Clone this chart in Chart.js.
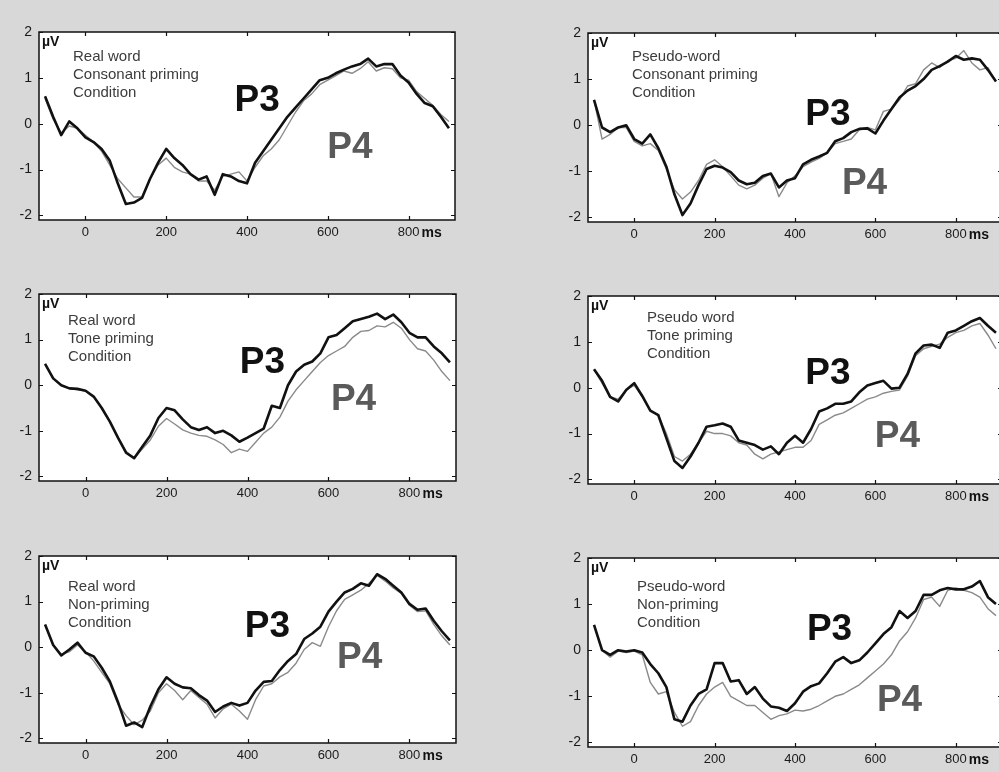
<!DOCTYPE html>
<html>
<head>
<meta charset="utf-8">
<script src="https://cdn.jsdelivr.net/npm/chart.js@4.4.1/dist/chart.umd.min.js"></script>
<style>
  html, body { margin: 0; padding: 0; width: 999px; height: 772px; overflow: hidden; background: #d8d8d8; }
  body { position: relative; }
  canvas { position: absolute; }
</style>
</head>
<body>
<script>
// time axis (ms) shared by all six panels
const times = [-100, -80, -60, -40, -20, 0, 20, 40, 60, 80, 100, 120, 140, 160, 180, 200, 220, 240, 260, 280,
  300, 320, 340, 360, 380, 400, 420, 440, 460, 480, 500, 520, 540, 560, 580, 600, 620, 640, 660, 680,
  700, 720, 740, 760, 780, 800, 820, 840, 860, 880, 900];

// µV values, black = P3, grey = P4
const realConsP3 = [0.6, 0.15, -0.25, 0.05, -0.1, -0.3, -0.4, -0.55, -0.8, -1.3, -1.75, -1.72, -1.62, -1.2, -0.85, -0.55, -0.75, -0.9, -1.1, -1.22,
  -1.15, -1.55, -1.1, -1.15, -1.25, -1.3, -0.85, -0.6, -0.35, -0.1, 0.15, 0.35, 0.55, 0.75, 0.95, 1.0, 1.1, 1.18, 1.25, 1.3,
  1.42, 1.25, 1.3, 1.3, 1.05, 0.9, 0.65, 0.45, 0.38, 0.15, -0.1];
const realConsP4 = [0.55, 0.1, -0.2, -0.05, -0.1, -0.25, -0.4, -0.6, -0.9, -1.2, -1.4, -1.6, -1.6, -1.2, -0.9, -0.75, -0.95, -1.05, -1.1, -1.25,
  -1.25, -1.45, -1.15, -1.1, -1.05, -1.25, -0.95, -0.7, -0.55, -0.35, -0.05, 0.25, 0.5, 0.65, 0.85, 0.95, 1.05, 1.15, 1.1, 1.2,
  1.35, 1.15, 1.22, 1.2, 1.0, 0.95, 0.7, 0.55, 0.4, 0.2, 0.05];

const pseudoConsP3 = [0.55, -0.05, -0.15, -0.05, 0.0, -0.3, -0.4, -0.2, -0.5, -0.9, -1.5, -1.95, -1.7, -1.3, -0.95, -0.88, -0.92, -1.02, -1.2, -1.28,
  -1.25, -1.1, -1.05, -1.35, -1.2, -1.15, -0.85, -0.75, -0.68, -0.6, -0.35, -0.28, -0.15, -0.08, -0.07, -0.18, 0.1, 0.35, 0.6, 0.75,
  0.85, 1.0, 1.2, 1.28, 1.38, 1.5, 1.42, 1.45, 1.42, 1.2, 0.95];
const pseudoConsP4 = [0.55, -0.3, -0.2, -0.05, -0.05, -0.35, -0.45, -0.4, -0.55, -0.95, -1.4, -1.6, -1.45, -1.2, -0.85, -0.75, -0.9, -1.1, -1.3, -1.38,
  -1.3, -1.15, -1.05, -1.55, -1.25, -1.1, -0.9, -0.8, -0.72, -0.6, -0.4, -0.35, -0.3, -0.1, -0.05, -0.1, 0.3, 0.35, 0.55, 0.85,
  0.9, 1.2, 1.35, 1.25, 1.4, 1.45, 1.62, 1.35, 1.2, 1.25, 0.95];

const realToneP3 = [0.47, 0.15, 0.0, -0.07, -0.08, -0.12, -0.25, -0.5, -0.8, -1.15, -1.48, -1.6, -1.35, -1.1, -0.72, -0.5, -0.55, -0.75, -0.92, -0.98,
  -0.92, -1.05, -1.0, -1.1, -1.24, -1.15, -1.05, -0.95, -0.45, -0.5, 0.0, 0.3, 0.45, 0.52, 0.7, 1.05, 1.1, 1.25, 1.4, 1.45,
  1.5, 1.57, 1.45, 1.55, 1.38, 1.15, 1.05, 1.05, 0.85, 0.7, 0.5];
const realToneP4 = [0.47, 0.15, 0.0, -0.07, -0.1, -0.12, -0.25, -0.5, -0.8, -1.15, -1.45, -1.6, -1.4, -1.2, -0.9, -0.73, -0.85, -0.98, -1.05, -1.1,
  -1.12, -1.2, -1.3, -1.48, -1.4, -1.45, -1.25, -1.05, -0.92, -0.7, -0.35, -0.1, 0.1, 0.3, 0.5, 0.65, 0.75, 0.85, 1.05, 1.18,
  1.2, 1.3, 1.28, 1.38, 1.25, 1.0, 0.8, 0.75, 0.55, 0.3, 0.1];

const pseudoToneP3 = [0.4, 0.15, -0.2, -0.3, -0.05, 0.1, -0.18, -0.5, -0.6, -1.1, -1.6, -1.75, -1.5, -1.2, -0.85, -0.82, -0.78, -0.85, -1.15, -1.2,
  -1.25, -1.35, -1.28, -1.45, -1.2, -1.05, -1.2, -0.9, -0.52, -0.45, -0.35, -0.35, -0.3, -0.1, 0.05, 0.1, 0.15, -0.02, 0.0, 0.3,
  0.75, 0.92, 0.94, 0.87, 1.2, 1.25, 1.35, 1.45, 1.52, 1.35, 1.2];
const pseudoToneP4 = [0.4, 0.1, -0.2, -0.25, -0.05, 0.05, -0.2, -0.5, -0.6, -1.0, -1.5, -1.6, -1.45, -1.2, -0.95, -1.0, -1.0, -1.05, -1.2, -1.25,
  -1.45, -1.55, -1.45, -1.4, -1.35, -1.3, -1.3, -1.15, -0.8, -0.7, -0.6, -0.55, -0.45, -0.35, -0.25, -0.2, -0.12, -0.08, -0.05, 0.25,
  0.7, 0.85, 0.9, 0.95, 1.1, 1.2, 1.25, 1.35, 1.4, 1.15, 0.85];

const realNonP3 = [0.5, 0.05, -0.18, -0.05, 0.1, -0.12, -0.2, -0.45, -0.75, -1.2, -1.72, -1.65, -1.75, -1.3, -0.92, -0.66, -0.8, -0.88, -0.9, -1.05,
  -1.17, -1.42, -1.3, -1.22, -1.28, -1.22, -0.95, -0.76, -0.74, -0.5, -0.3, -0.15, 0.18, 0.3, 0.45, 0.78, 1.0, 1.2, 1.28, 1.4,
  1.35, 1.6, 1.5, 1.35, 1.2, 0.95, 0.82, 0.85, 0.58, 0.35, 0.15];
const realNonP4 = [0.5, 0.05, -0.15, -0.1, 0.05, -0.1, -0.3, -0.55, -0.8, -1.25, -1.5, -1.7, -1.6, -1.4, -1.0, -0.8, -0.95, -1.15, -0.95, -1.1,
  -1.25, -1.55, -1.35, -1.25, -1.4, -1.58, -1.15, -0.85, -0.8, -0.65, -0.55, -0.35, -0.05, 0.1, 0.02, 0.45, 0.8, 1.05, 1.15, 1.25,
  1.4, 1.58, 1.45, 1.3, 1.18, 0.92, 0.78, 0.8, 0.5, 0.25, 0.05];

const pseudoNonP3 = [0.55, 0.0, -0.1, 0.0, -0.03, 0.0, -0.05, -0.3, -0.5, -0.8, -1.5, -1.55, -1.2, -0.95, -0.85, -0.28, -0.28, -0.68, -0.65, -0.95,
  -0.8, -1.05, -1.22, -1.25, -1.32, -1.15, -0.9, -0.78, -0.72, -0.5, -0.25, -0.15, -0.28, -0.22, -0.05, 0.15, 0.35, 0.5, 0.85, 0.7,
  0.85, 1.2, 1.2, 1.3, 1.35, 1.32, 1.32, 1.38, 1.5, 1.15, 1.0];
const pseudoNonP4 = [0.55, 0.0, -0.15, -0.02, -0.05, -0.02, -0.1, -0.7, -0.95, -0.9, -1.35, -1.65, -1.55, -1.2, -0.95, -0.8, -0.7, -1.0, -1.1, -1.2,
  -1.2, -1.35, -1.5, -1.42, -1.38, -1.3, -1.32, -1.28, -1.2, -1.1, -1.0, -0.95, -0.85, -0.75, -0.6, -0.45, -0.3, -0.1, 0.2, 0.4,
  0.7, 1.1, 1.15, 0.95, 1.3, 1.35, 1.3, 1.25, 1.15, 0.9, 0.75];

const xTicks = [0, 200, 400, 600, 800];
const yTicks = [-2, -1, 0, 1, 2];
const yTickLabels = ['-2', '-1', '0', '1', '2'];

const FONT = '"Liberation Sans", Arial, Helvetica, sans-serif';
const AXW = 38, AXH = 28, PADT = 30, PADR = 10;

// plot boxes in page pixels, plus where the notes sit
const panels = [
  { L: 39, T: 32, R: 455, B: 220, p3: realConsP3, p4: realConsP4,
    note: ['Real word', 'Consonant priming', 'Condition'], noteX: 34, noteY: 25, p3At: [425, 0.56], p4At: [655, -0.46] },
  { L: 588, T: 33, R: 1002, B: 222, p3: pseudoConsP3, p4: pseudoConsP4,
    note: ['Pseudo-word', 'Consonant priming', 'Condition'], noteX: 44, noteY: 24, p3At: [482, 0.28], p4At: [573, -1.21] },
  { L: 39, T: 294, R: 456, B: 481, p3: realToneP3, p4: realToneP4,
    note: ['Real word', 'Tone priming', 'Condition'], noteX: 29, noteY: 27, p3At: [437, 0.56], p4At: [662, -0.25] },
  { L: 588, T: 296, R: 1002, B: 484, p3: pseudoToneP3, p4: pseudoToneP4,
    note: ['Pseudo word', 'Tone priming', 'Condition'], noteX: 59, noteY: 22, p3At: [482, 0.36], p4At: [655, -1.01] },
  { L: 39, T: 556, R: 456, B: 743, p3: realNonP3, p4: realNonP4,
    note: ['Real word', 'Non-priming', 'Condition'], noteX: 29, noteY: 31, p3At: [449, 0.52], p4At: [677, -0.16] },
  { L: 588, T: 558, R: 1002, B: 747, p3: pseudoNonP3, p4: pseudoNonP4,
    note: ['Pseudo-word', 'Non-priming', 'Condition'], noteX: 49, noteY: 29, p3At: [486, 0.5], p4At: [660, -1.03] }
];

const framePlugin = {
  id: 'frame',
  beforeDraw(chart) {
    const a = chart.chartArea, ctx = chart.ctx;
    ctx.save();
    ctx.fillStyle = '#ffffff';
    ctx.fillRect(a.left, a.top, a.right - a.left, a.bottom - a.top);
    ctx.restore();
  },
  afterDraw(chart, args, opts) {
    const a = chart.chartArea, ctx = chart.ctx;
    const x = chart.scales.x, y = chart.scales.y;
    const p = opts.panel;
    ctx.save();
    // box
    ctx.strokeStyle = '#111';
    ctx.lineWidth = 1.5;
    ctx.strokeRect(a.left, a.top, a.right - a.left, a.bottom - a.top);
    // inward ticks
    ctx.lineWidth = 1.2;
    ctx.beginPath();
    xTicks.forEach(v => {
      const px = Math.round(x.getPixelForValue(v)) + 0.5;
      ctx.moveTo(px, a.bottom); ctx.lineTo(px, a.bottom - 4);
      ctx.moveTo(px, a.top); ctx.lineTo(px, a.top + 4);
    });
    yTicks.forEach(v => {
      const py = Math.round(y.getPixelForValue(v)) + 0.5;
      ctx.moveTo(a.left, py); ctx.lineTo(a.left + 4, py);
      ctx.moveTo(a.right, py); ctx.lineTo(a.right - 4, py);
    });
    ctx.stroke();

    // unit labels
    ctx.fillStyle = '#111';
    ctx.font = 'bold 14px ' + FONT;
    ctx.textAlign = 'left';
    ctx.textBaseline = 'middle';
    ctx.fillText('\u00b5V', a.left + 3, a.top + 10);
    ctx.fillText('ms', x.getPixelForValue(800) + 13, a.bottom + 13);

    // condition note
    ctx.fillStyle = '#3c3c3c';
    ctx.font = '15px ' + FONT;
    p.note.forEach((t, i) => ctx.fillText(t, a.left + p.noteX, a.top + p.noteY + i * 18));

    // electrode labels
    ctx.font = 'bold 37px ' + FONT;
    ctx.textAlign = 'center';
    ctx.textBaseline = 'alphabetic';
    ctx.fillStyle = '#111';
    ctx.fillText('P3', x.getPixelForValue(p.p3At[0]), y.getPixelForValue(p.p3At[1]) + 13);
    ctx.fillStyle = '#5a5a5a';
    ctx.fillText('P4', x.getPixelForValue(p.p4At[0]), y.getPixelForValue(p.p4At[1]) + 13);
    ctx.restore();
  }
};

function makeChart(p) {
  const cv = document.createElement('canvas');
  const w = p.R - p.L + AXW + PADR;
  const h = p.B - p.T + PADT + AXH;
  cv.width = w;
  cv.height = h;
  cv.style.width = w + 'px';
  cv.style.height = h + 'px';
  cv.style.left = (p.L - AXW) + 'px';
  cv.style.top = (p.T - PADT) + 'px';
  document.body.appendChild(cv);

  const line = (vals, color, width) => ({
    data: times.map((t, i) => ({ x: t, y: vals[i] })),
    borderColor: color,
    borderWidth: width,
    borderJoinStyle: 'round',
    pointRadius: 0,
    tension: 0,
    fill: false
  });

  return new Chart(cv, {
    type: 'line',
    data: { datasets: [line(p.p3, '#111111', 2.6), line(p.p4, '#8a8a8a', 1.4)] },
    options: {
      responsive: false,
      animation: false,
      devicePixelRatio: 1,
      layout: { padding: { left: 0, top: PADT, right: PADR, bottom: 0 } },
      plugins: { legend: { display: false }, tooltip: { enabled: false }, frame: { panel: p } },
      scales: {
        x: {
          type: 'linear', min: -115, max: 915,
          grid: { display: false, drawTicks: false }, border: { display: false },
          afterBuildTicks: s => { s.ticks = xTicks.map(v => ({ value: v })); },
          afterFit: s => { s.height = AXH; },
          ticks: { padding: 5, color: '#1a1a1a', maxRotation: 0, autoSkip: false,
            font: { family: FONT, size: 13 } }
        },
        y: {
          min: -2.1, max: 2,
          grid: { display: false, drawTicks: false }, border: { display: false },
          afterBuildTicks: s => { s.ticks = yTicks.map(v => ({ value: v })); },
          afterFit: s => { s.width = AXW; },
          ticks: { padding: 7, color: '#1a1a1a', autoSkip: false,
            font: { family: FONT, size: 14 },
            callback: v => yTickLabels[yTicks.indexOf(v)] }
        }
      }
    },
    plugins: [framePlugin]
  });
}

panels.forEach(makeChart);
</script>
</body>
</html>
